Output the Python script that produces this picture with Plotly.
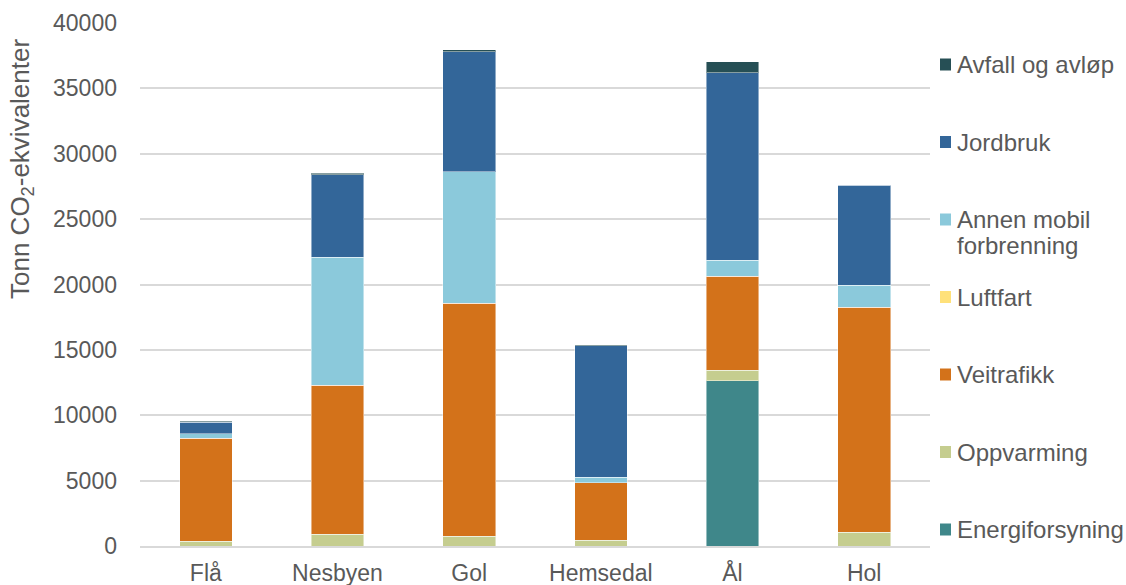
import plotly.graph_objects as go

# Kommuner
kommuner = ["Flå", "Nesbyen", "Gol", "Hemsedal", "Ål", "Hol"]

# Utslipp per sektor (tonn CO2-ekvivalenter)
energiforsyning = [0, 0, 0, 0, 12650, 0]
oppvarming = [380, 900, 750, 440, 780, 1050]
veitrafikk = [7880, 11390, 17810, 4380, 7210, 17220]
luftfart = [0, 0, 0, 0, 0, 0]
annen_mobil = [330, 9780, 10060, 430, 1200, 1680]
jordbruk = [870, 6320, 9180, 10070, 14350, 7630]
avfall = [70, 130, 170, 30, 840, 50]

serier = [
    ("Energiforsyning", energiforsyning, "#3F878A"),
    ("Oppvarming", oppvarming, "#C5CD8F"),
    ("Veitrafikk", veitrafikk, "#D3721A"),
    ("Luftfart", luftfart, "#FFE17A"),
    ("Annen mobil<br>forbrenning", annen_mobil, "#8BC9DB"),
    ("Jordbruk", jordbruk, "#336699"),
    ("Avfall og avløp", avfall, "#264F55"),
]

y_tittel = "Tonn CO<sub>2</sub>-ekvivalenter"

FONT = "Liberation Sans, Arial, sans-serif"
GREY = "#595959"

W, H = 1126, 585
PLOT_L, PLOT_R, PLOT_T, PLOT_B = 140, 930, 23, 546
PLOT_W, PLOT_H = PLOT_R - PLOT_L, PLOT_B - PLOT_T


def px_x(x):
    return (x - PLOT_L) / PLOT_W


def px_y(y):
    return (PLOT_B - y) / PLOT_H


fig = go.Figure()
for navn, verdier, farge in serier:
    fig.add_trace(go.Bar(
        x=kommuner, y=verdier, name=navn.replace("<br>", " "),
        marker=dict(color=farge, line=dict(color="rgba(255,255,255,0.45)", width=1)),
        showlegend=False,
    ))

# Tegnforklaring til høyre, jevnt fordelt ovenfra og ned
annotations = []
shapes = []
legend_top = 64.5
legend_step = 77.5
line_h = 26
for i, (navn, verdier, farge) in enumerate(reversed(serier)):
    yc = legend_top + i * legend_step
    shapes.append(dict(
        type="rect", xref="paper", yref="paper",
        x0=px_x(940), x1=px_x(951),
        y0=px_y(yc + 6), y1=px_y(yc - 6),
        line=dict(width=0), fillcolor=farge,
    ))
    for j, linje in enumerate(navn.split("<br>")):
        annotations.append(dict(
            xref="paper", yref="paper",
            x=px_x(955), y=px_y(yc + j * line_h),
            text=linje, showarrow=False, xanchor="left", yanchor="middle",
            align="left", font=dict(family=FONT, size=24, color=GREY),
        ))

# Aksetittel for y-aksen
annotations.append(dict(
    xref="paper", yref="paper",
    x=px_x(22), y=px_y(169),
    text=y_tittel, textangle=-90, showarrow=False,
    xanchor="center", yanchor="middle",
    font=dict(family=FONT, size=26, color=GREY),
))

fig.update_layout(
    barmode="stack",
    bargap=0.6,
    width=W, height=H,
    margin=dict(l=PLOT_L, r=W - PLOT_R, t=PLOT_T, b=H - PLOT_B),
    plot_bgcolor="white", paper_bgcolor="white",
    font=dict(family=FONT, size=23, color=GREY),
    shapes=shapes,
    annotations=annotations,
    showlegend=False,
)

fig.update_yaxes(
    range=[0, 40000], dtick=5000, tickformat="d",
    showgrid=True, gridcolor="#D9D9D9", gridwidth=1.5,
    zeroline=False, showline=False, automargin=False,
    ticklabelstandoff=22,
    tickfont=dict(family=FONT, size=23, color=GREY),
)
fig.update_xaxes(
    showline=True, linecolor="#D9D9D9", linewidth=1.5,
    ticks="", ticklabelstandoff=6, automargin=False,
    tickfont=dict(family=FONT, size=23, color=GREY),
)

fig.write_html("out.html")
